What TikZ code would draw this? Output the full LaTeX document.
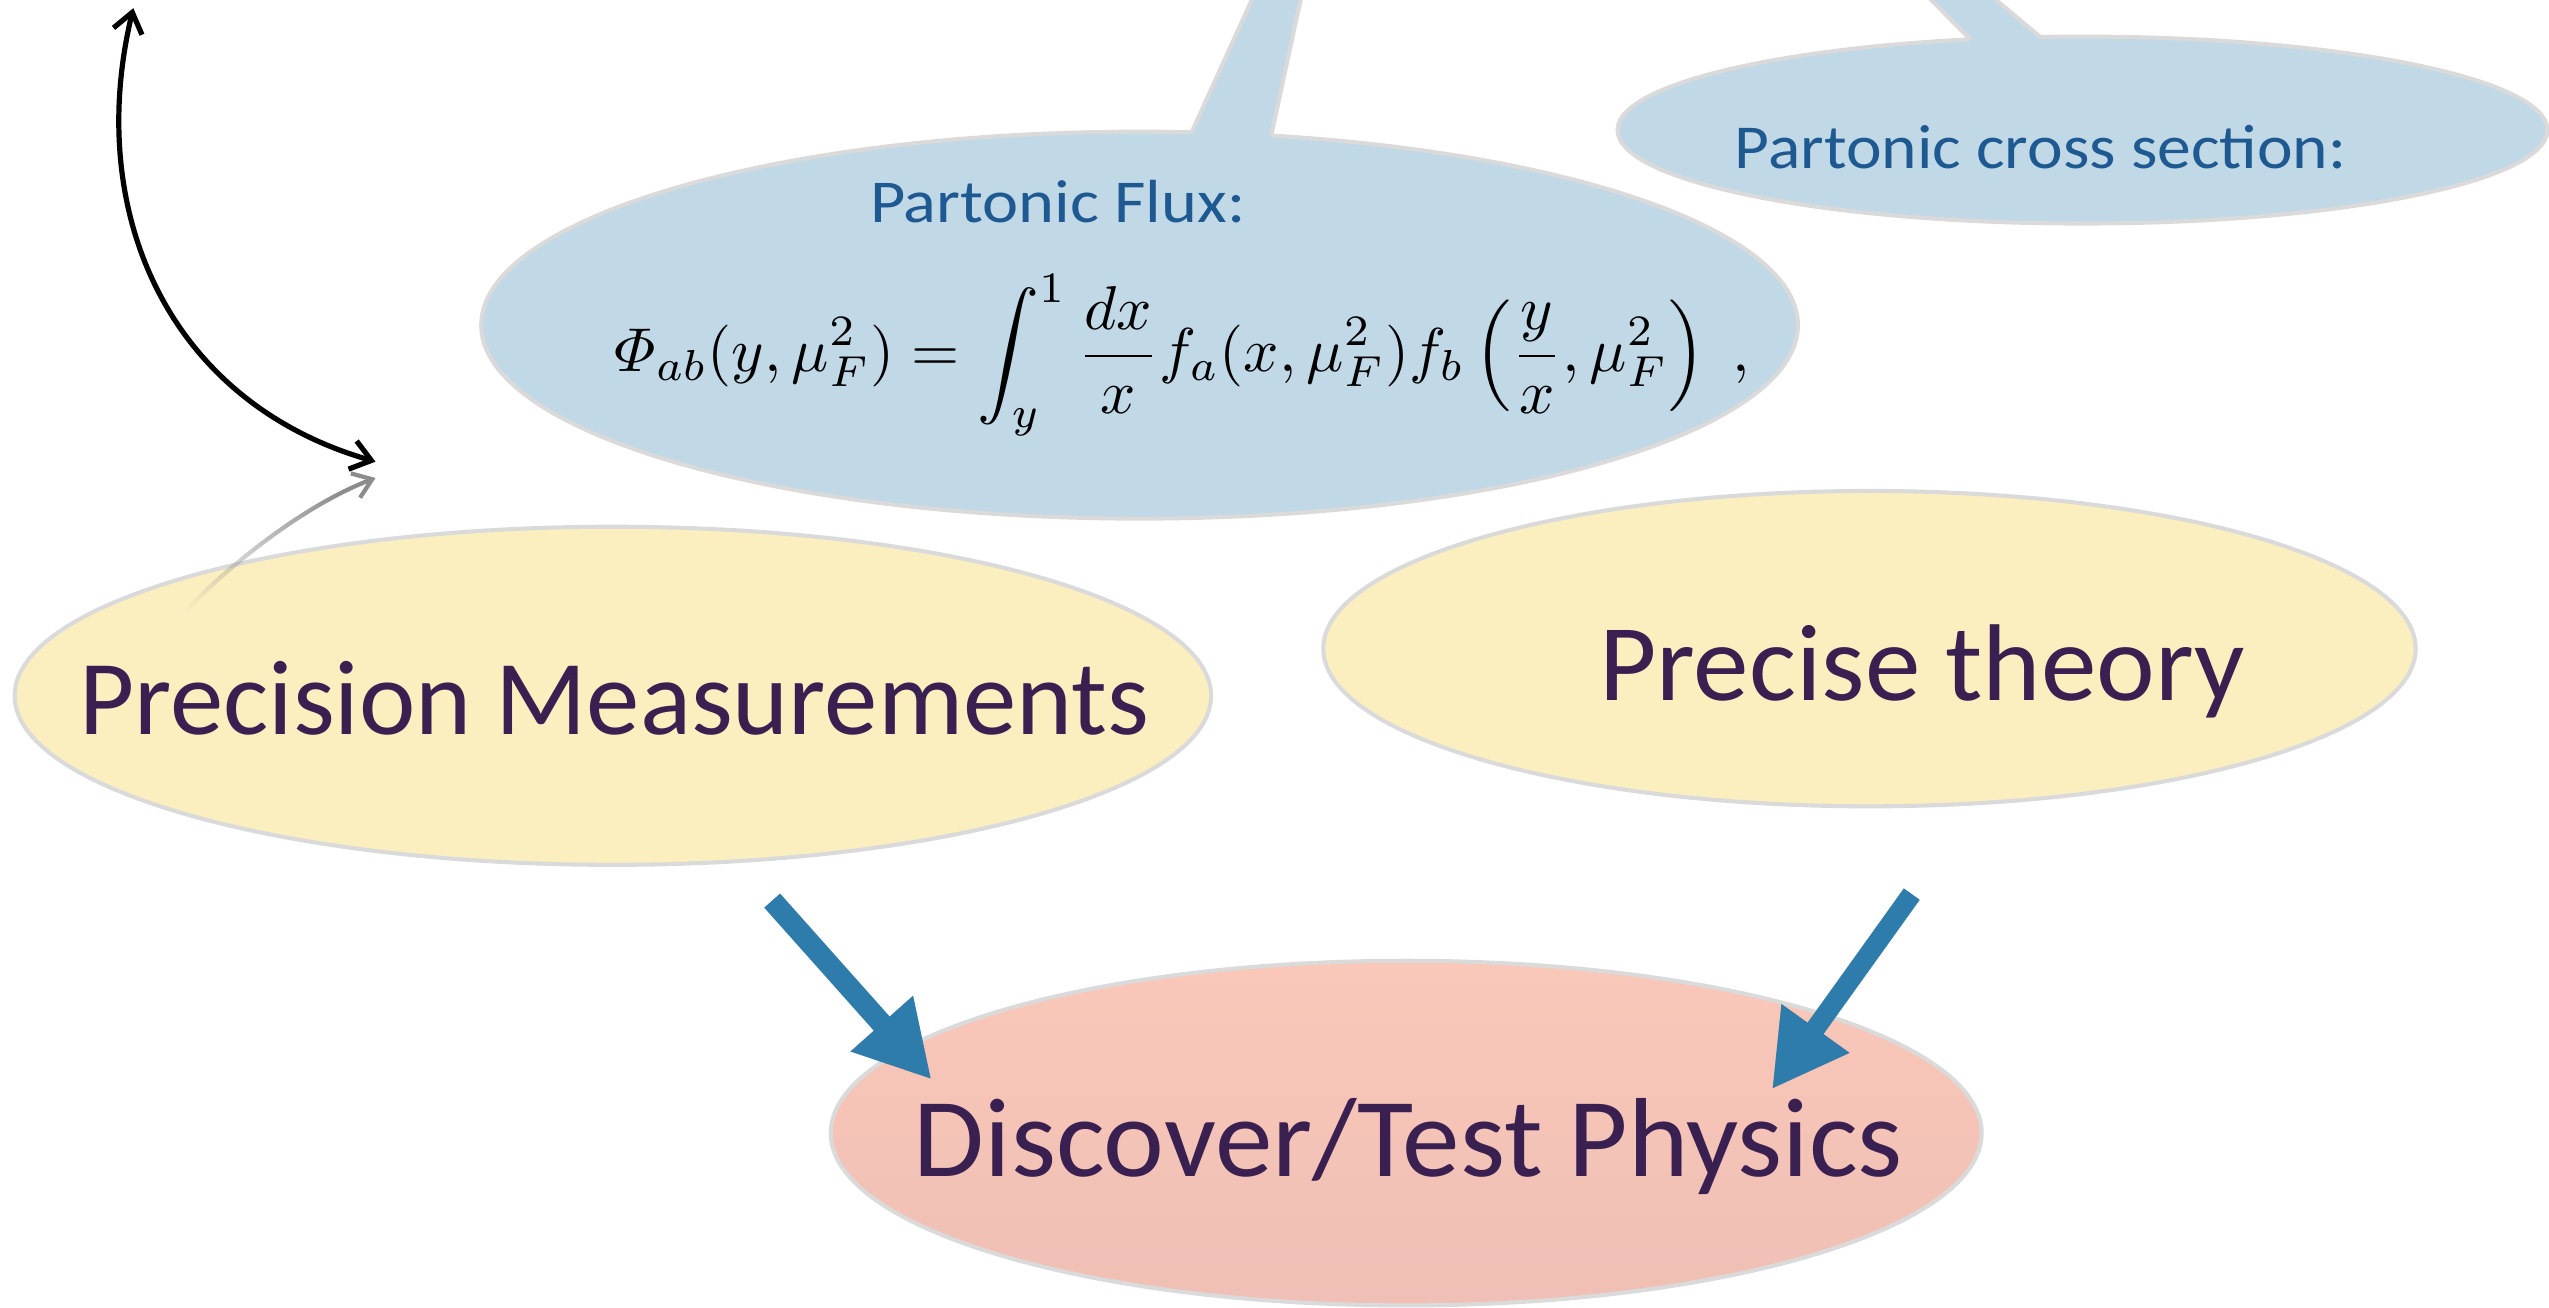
\documentclass[tikz,border=0pt]{standalone}
\usepackage{amsmath}
\usepackage{graphicx}
\usepackage{fontspec}
\newfontfamily\comicfont{Carlito}
\usetikzlibrary{shapes.geometric,arrows.meta,fadings}
\definecolor{bubblefill}{RGB}{193,216,230}
\definecolor{bordergray}{RGB}{218,218,218}
\definecolor{yellowfill}{RGB}{251,239,192}
\definecolor{pinktop}{RGB}{249,200,185}
\definecolor{pinkbot}{RGB}{240,191,181}
\definecolor{txtpurple}{RGB}{58,32,80}
\definecolor{txtblue}{RGB}{30,90,145}
\definecolor{arrowblue}{RGB}{46,124,172}
\definecolor{arrowgray}{RGB}{140,140,140}
\tikzfading[name=grayfade, left color=transparent!100, right color=transparent!0]
\tikzset{
  oval/.style={ellipse, inner sep=0pt, draw=bordergray, line width=2.5pt},
  bubble/.style={oval, fill=bubblefill},
  yoval/.style={oval, fill=yellowfill},
  poval/.style={oval, top color=pinktop, bottom color=pinkbot},
  txt/.style={anchor=base west, inner sep=0pt, text=txtpurple, font=\comicfont},
  btxt/.style={anchor=base west, inner sep=0pt, text=txtblue, font=\comicfont},
  tailedge/.style={draw=bordergray, line width=2.5pt},
  bigarrow/.style={draw=arrowblue, line width=13pt, -{Triangle[length=46pt,width=48pt]}},
  bigshadow/.style={draw=black, opacity=0.22, line width=13pt, -{Triangle[length=46pt,width=48pt]}, shift={(2,3)}},
  blackarrow/.style={line width=3.2pt, {Straight Barb[length=12pt,width=18pt]}-{Straight Barb[length=12pt,width=18pt]}},
  grayarrow/.style={draw=arrowgray, line width=2.6pt, -{Straight Barb[length=11pt,width=16pt]}}
}
\begin{document}
\begin{tikzpicture}[x=1pt,y=-1pt]
\useasboundingbox (0,0) rectangle (1568,804);
\clip (0,0) rectangle (1568,804);

% ---- Partonic flux bubble
\node[bubble, minimum width=810pt, minimum height=238pt] (flux) at (701,200) {};
\fill[bubblefill] (733,81.4) -- (774.5,-10) -- (802.2,-10) -- (782,83.4) -- (782,100) -- (733,100) -- cycle;
\draw[tailedge] (733,81.4) -- (774.5,-10);
\draw[tailedge] (782,83.4) -- (802.2,-10);
\node[btxt] (fluxlabel) at (535,137) {\resizebox{231pt}{26pt}{Partonic Flux:}};
\node[anchor=base west, inner sep=0pt] (formula) at (378,228.5)
  {\resizebox{698pt}{!}{$\displaystyle \varPhi_{ab}(y,\mu_F^2)=\int_y^1\frac{dx}{x}f_a(x,\mu_F^2)f_b\left(\frac{y}{x},\mu_F^2\right)\;,$}};

% ---- Partonic cross section bubble
\node[bubble, minimum width=572pt, minimum height=115pt] (xsec) at (1281,80) {};
\fill[bubblefill] (1212,24.2) -- (1178,-10) -- (1216,-10) -- (1255,22.7) -- (1255,40) -- (1212,40) -- cycle;
\draw[tailedge] (1212,24.2) -- (1178,-10);
\draw[tailedge] (1255,22.7) -- (1216,-10);
\node[btxt] (xseclabel) at (1067,103.6) {\resizebox{376pt}{26.6pt}{Partonic cross section:}};

% ---- Yellow ovals
\node[yoval, minimum width=736pt, minimum height=208pt] (pm) at (377,428) {};
\node[txt] (pmlabel) at (48.5,452) {\resizebox{658pt}{45pt}{Precision Measurements}};
\node[yoval, minimum width=672pt, minimum height=194pt] (pt) at (1150,399) {};
\node[txt] (ptlabel) at (983.5,430.6) {\resizebox{397pt}{46.6pt}{Precise theory}};

% ---- Pink oval
\node[poval, minimum width=708pt, minimum height=212pt] (dtp) at (865,697) {};
\node[txt] (dtplabel) at (562,724) {\resizebox{608pt}{48pt}{Discover/Test Physics}};

% ---- Blue arrows
\coordinate (la0) at (475,554);
\coordinate (la1) at (573,664);
\coordinate (ra0) at (1176,550);
\coordinate (ra1) at (1090,670);
\draw[bigshadow] (la0) -- (la1);
\draw[bigshadow, line width=12pt] (ra0) -- (ra1);
\draw[bigarrow] (la0) -- (la1);
\draw[bigarrow, line width=12pt] (ra0) -- (ra1);

% ---- Black double arrow
\coordinate (btop) at (82,5);
\coordinate (bbot) at (231,284);
\draw[blackarrow] (btop) .. controls (52,130) and (103,247) .. (bbot);

% ---- Gray arrow
\coordinate (gstart) at (99,393);
\coordinate (gtip) at (231,294);
\draw[grayarrow, path fading=grayfade, fading angle=37] (gstart) .. controls (124,361) and (181,313) .. (gtip);
\end{tikzpicture}
\end{document}
